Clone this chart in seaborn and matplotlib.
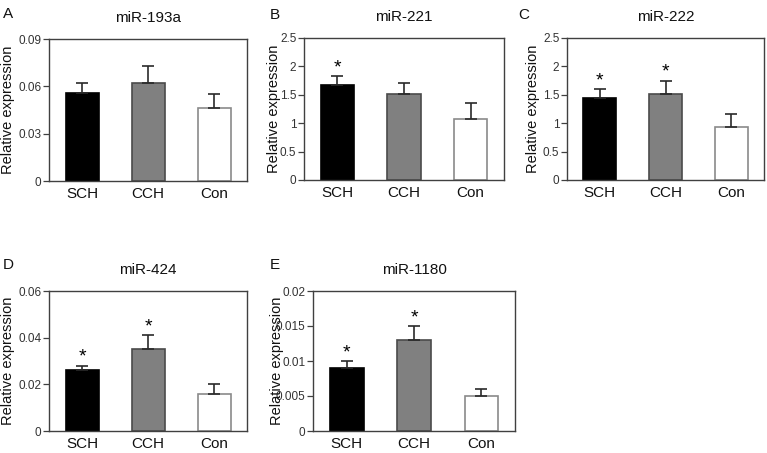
import numpy as np
import pandas as pd
import matplotlib
matplotlib.use('Agg')
import matplotlib.pyplot as plt
import seaborn as sns

# ---------------- data ----------------
categories = ['SCH', 'CCH', 'Con']
panel_letters = ['A', 'B', 'C', 'D', 'E']
titles = ['miR-193a', 'miR-221', 'miR-222', 'miR-424', 'miR-1180']

means_193a = [0.056, 0.062, 0.046]
err_193a = [0.006, 0.011, 0.009]
stars_193a = [False, False, False]

means_221 = [1.67, 1.52, 1.07]
err_221 = [0.16, 0.19, 0.28]
stars_221 = [True, False, False]

means_222 = [1.45, 1.51, 0.93]
err_222 = [0.15, 0.24, 0.23]
stars_222 = [True, True, False]

means_424 = [0.026, 0.035, 0.016]
err_424 = [0.002, 0.006, 0.004]
stars_424 = [True, True, False]

means_1180 = [0.009, 0.013, 0.005]
err_1180 = [0.001, 0.002, 0.001]
stars_1180 = [True, True, False]

yticks_193a = [0, 0.03, 0.06, 0.09]
yticklabels_193a = ['0', '0.03', '0.06', '0.09']
yticks_221 = [0, 0.5, 1, 1.5, 2, 2.5]
yticklabels_221 = ['0', '0.5', '1', '1.5', '2', '2.5']
yticks_222 = [0, 0.5, 1, 1.5, 2, 2.5]
yticklabels_222 = ['0', '0.5', '1', '1.5', '2', '2.5']
yticks_424 = [0, 0.02, 0.04, 0.06]
yticklabels_424 = ['0', '0.02', '0.04', '0.06']
yticks_1180 = [0, 0.005, 0.01, 0.015, 0.02]
yticklabels_1180 = ['0', '0.005', '0.01', '0.015', '0.02']

# ---------------- style ----------------
bar_colors = ['#000000', '#808080', '#ffffff']
edge_colors = ['#000000', '#4a4a4a', '#8a8a8a']
spine_color = '#404040'

sns.set_style('white')
plt.rcParams['font.family'] = ['Liberation Sans', 'DejaVu Sans']

W, H = 767, 453
fig = plt.figure(figsize=(W / 100, H / 100), dpi=100)

# axes boxes in pixels: (left, top, right, bottom)
boxes = [(49, 39, 247, 181), (304, 38, 504, 180), (567, 38, 764, 180),
         (49, 291, 247, 431), (313, 291, 515, 431)]
label_offsets = [-41, -30, -34, -41, -36]
letter_pos = [(3, 7), (270, 8), (518, 8), (3, 258), (270, 258)]

panels = [
    (means_193a, err_193a, stars_193a, yticks_193a, yticklabels_193a),
    (means_221, err_221, stars_221, yticks_221, yticklabels_221),
    (means_222, err_222, stars_222, yticks_222, yticklabels_222),
    (means_424, err_424, stars_424, yticks_424, yticklabels_424),
    (means_1180, err_1180, stars_1180, yticks_1180, yticklabels_1180),
]

for i, (means, errs, stars, yt, ytl) in enumerate(panels):
    l, t, r, b = boxes[i]
    ax = fig.add_axes([l / W, 1 - b / H, (r - l) / W, (b - t) / H])
    df = pd.DataFrame({'group': categories, 'value': means})
    sns.barplot(data=df, x='group', y='value', hue='group', palette=bar_colors,
                order=categories, hue_order=categories, width=0.5,
                legend=False, ax=ax, errorbar=None)
    for p, ec in zip(ax.patches, edge_colors):
        p.set_edgecolor(ec)
        p.set_linewidth(1.2)
    centers = [p.get_x() + p.get_width() / 2 for p in ax.patches]
    ax.errorbar(centers, means, yerr=[np.zeros(len(errs)), errs], fmt='none',
                ecolor='#2a2a2a', elinewidth=1.2, capsize=4, capthick=1.2,
                zorder=1)
    for c, m, e, s in zip(centers, means, errs, stars):
        if s:
            ax.annotate('*', xy=(c, m + e), xytext=(0, 0),
                        textcoords='offset points', ha='center', va='bottom',
                        fontsize=14, color='#000000')
    ax.set_xlim(-0.5, 2.5)
    ax.set_ylim(yt[0], yt[-1])
    ax.set_yticks(yt)
    ax.set_yticklabels(ytl)
    ax.set_xlabel('')
    ax.set_ylabel('Relative expression', fontsize=10.5, color='#111111',
                  va='center')
    ax.yaxis.set_label_coords(label_offsets[i] / (r - l), 0.5)
    ax.tick_params(axis='y', length=4, width=0.9, color=spine_color,
                   labelsize=8.5, labelcolor='#333333', pad=1.5, left=True)
    ax.tick_params(axis='x', length=0, labelsize=11, labelcolor='#111111',
                   pad=4.5)
    for sp in ax.spines.values():
        sp.set_visible(True)
        sp.set_color(spine_color)
        sp.set_linewidth(1.0)
    ax.set_title(titles[i], fontsize=11, pad=12, color='#111111')
    lx, ly = letter_pos[i]
    fig.text(lx / W, 1 - ly / H, panel_letters[i], ha='left', va='top',
             fontsize=11, color='#111111')

fig.savefig('out.png', dpi=100, facecolor='white')
